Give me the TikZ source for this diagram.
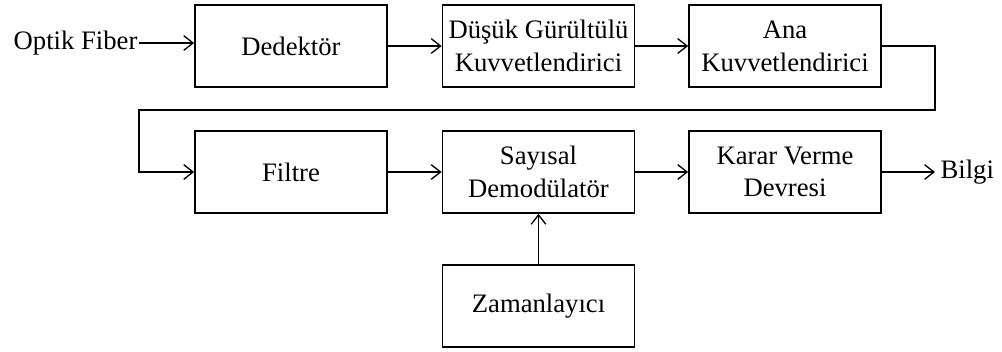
\documentclass[tikz,border=0pt]{standalone}
\usepackage{fontspec}
\setmainfont{Liberation Serif}
\usetikzlibrary{arrows.meta}
\tikzset{
  blok/.style = {draw, line width = 1.3pt, minimum width = 144pt, minimum height = 61.5pt,
                 align = center, font = \fontsize{20}{24.5}\selectfont},
  etiket/.style = {font = \fontsize{20}{24.5}\selectfont, inner sep = 1pt},
  ok/.style = {line width = 1.3pt, -{Straight Barb[length = 7pt, width = 11pt, line width = 1pt]}}
}
\begin{document}
\begin{tikzpicture}[x = .75pt, y = -.75pt]
	\useasboundingbox (0,0) rectangle (1002,351);
	\node[blok] (det) at (291,46) {Dedekt\"or};
	\node[blok] (dgk) at (538.5,46) {D\"u\c{s}\"uk G\"ur\"ult\"ul\"u\\Kuvvetlendirici};
	\node[blok] (ana) at (785,46) {Ana\\Kuvvetlendirici};
	\node[blok] (filt) at (291,172) {Filtre};
	\node[blok] (demod) at (538.5,172) {Say\i sal\\Demod\"ulat\"or};
	\node[blok] (karar) at (785,172) {Karar Verme\\Devresi};
	\node[blok] (zaman) at (538.5,306) {Zamanlay\i c\i};
	\node[etiket, anchor = east] (fiber) at (139,43) {Optik Fiber};
	\node[etiket, anchor = west, inner sep = 4pt] (bilgi) at (935,172) {Bilgi};
	\coordinate (sagkose) at (935,110);
	\coordinate (solkose) at (139,110);
	\draw[ok] (fiber.east) -- (fiber.east -| det.west);
	\draw[ok] (det) -- (dgk);
	\draw[ok] (dgk) -- (ana);
	\draw[ok] (ana.east) -| (sagkose) -- (solkose) |- (filt.west);
	\draw[ok] (filt) -- (demod);
	\draw[ok] (demod) -- (karar);
	\draw[ok] (karar) -- (bilgi);
	\draw[ok] (zaman) -- (demod);
\end{tikzpicture}
\end{document}
